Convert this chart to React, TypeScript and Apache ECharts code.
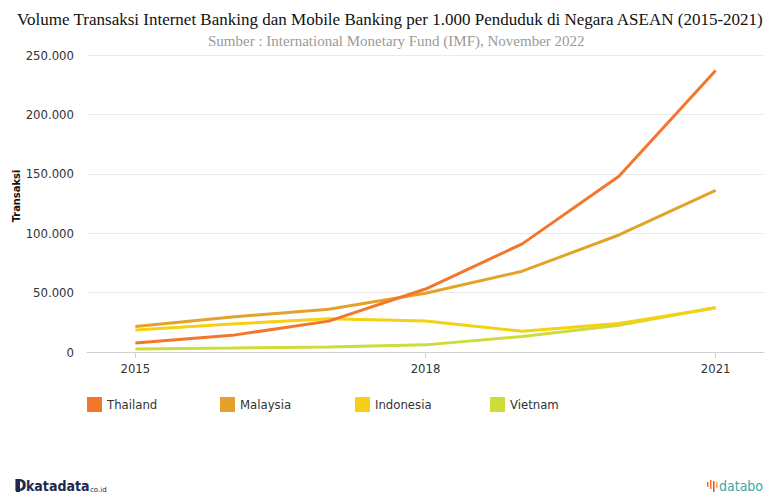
import React, { useEffect, useRef } from "react";
import * as echarts from "echarts";

const years = ["2015", "2016", "2017", "2018", "2019", "2020", "2021"];
const thailand = [7500, 14000, 26000, 53000, 91000, 148000, 237000];
const malaysia = [21500, 29500, 36000, 49500, 68000, 98500, 136000];
const indonesia = [18500, 23500, 28000, 26000, 17500, 24000, 37000];
const vietnam = [2500, 3300, 4300, 6000, 13000, 22500, 37500];
const seriesNames = ["Thailand", "Malaysia", "Indonesia", "Vietnam"];
const colors = ["#F4762A", "#E3A32B", "#F5D014", "#CDDC39"];
const legendLefts = [87, 220, 355, 490];

const fmt = (v: number) => String(v).replace(/\B(?=(\d{3})+(?!\d))/g, ".");
const SANS = "DejaVu Sans Condensed";

export default function App() {
  const ref = useRef<HTMLDivElement>(null);
  useEffect(() => {
    if (!ref.current) return;
    const chart = echarts.init(ref.current, undefined, { renderer: "svg" });
    const data = [thailand, malaysia, indonesia, vietnam];
    chart.setOption({
      animation: false,
      backgroundColor: "#ffffff",
      title: [
        {
          text: "Volume Transaksi Internet Banking dan Mobile Banking per 1.000 Penduduk di Negara ASEAN (2015-2021)",
          left: 12,
          top: 6,
          textStyle: { fontFamily: "Liberation Serif", fontSize: 17, fontWeight: "normal", color: "#111" },
        },
        {
          text: "Sumber : International Monetary Fund (IMF), November 2022",
          left: 203,
          top: 28,
          textStyle: { fontFamily: "Liberation Serif", fontSize: 15, fontWeight: "normal", color: "#9a9a9a" },
        },
      ],
      grid: { left: 87, right: 1, top: 55, bottom: 142, containLabel: false, outerBoundsMode: "none" },
      legend: seriesNames.map((n, i) => ({
        left: legendLefts[i],
        top: 397,
        padding: 0,
        itemWidth: 15,
        itemHeight: 15,
        icon: "rect",
        data: [{ name: n, itemStyle: { color: colors[i] } }],
        textStyle: { fontFamily: SANS, fontSize: 13, color: "#333" },
      })),
      xAxis: {
        type: "category",
        data: years,
        boundaryGap: true,
        axisLine: { lineStyle: { color: "#d0d0d0" } },
        axisTick: { show: true, interval: 2, alignWithLabel: true, length: 6, lineStyle: { color: "#d0d0d0" } },
        axisLabel: { interval: 2, fontFamily: SANS, fontSize: 13, color: "#333", margin: 10 },
      },
      yAxis: {
        type: "value",
        min: 0,
        max: 250000,
        interval: 50000,
        axisLine: { show: false },
        axisTick: { show: false },
        splitLine: { lineStyle: { color: "#ebebeb" } },
        axisLabel: { fontFamily: SANS, fontSize: 13, color: "#333", margin: 13, formatter: (v: number) => fmt(v) },
      },
      series: data.map((d, i) => ({
        name: seriesNames[i],
        type: "line",
        data: d,
        symbol: "none",
        lineStyle: { width: 3, color: colors[i] },
        itemStyle: { color: colors[i] },
        z: 10 - i,
      })),
      graphic: [
        {
          type: "text",
          x: 16,
          y: 196,
          rotation: Math.PI / 2,
          style: {
            text: "Transaksi",
            font: "bold 11px DejaVu Sans Condensed",
            fill: "#111",
            align: "center",
            verticalAlign: "middle",
          },
        },
        { type: "rect", left: 16, top: 481, shape: { width: 4, height: 11 }, style: { fill: "#1b2a4e" } },
        {
          type: "text",
          left: 14,
          top: 478,
          style: { text: "D", font: "bold 15px DejaVu Sans", fill: "#1b2a4e" },
        },
        {
          type: "text",
          left: 26,
          top: 479,
          style: { text: "katadata", font: "bold 14px DejaVu Sans Condensed", fill: "#1b2a4e" },
        },
        {
          type: "text",
          left: 90,
          top: 486,
          style: { text: "co.id", font: "7px DejaVu Sans", fill: "#1b2a4e" },
        },
        { type: "rect", left: 707, top: 482, shape: { width: 1.5, height: 5 }, style: { fill: "#f26a3a" } },
        { type: "rect", left: 710, top: 480, shape: { width: 1.5, height: 9 }, style: { fill: "#f26a3a" } },
        { type: "rect", left: 713, top: 481, shape: { width: 1.5, height: 11 }, style: { fill: "#e8453c" } },
        { type: "rect", left: 716, top: 482, shape: { width: 1.5, height: 6 }, style: { fill: "#f5a23a" } },
        {
          type: "text",
          left: 719,
          top: 479,
          style: { text: "databo", font: "14px DejaVu Sans Condensed", fill: "#3aa8a3" },
        },
      ],
    });
    return () => chart.dispose();
  }, []);
  return <div ref={ref} style={{ width: 765, height: 494, position: "absolute", left: 0, top: 0 }} />;
}
